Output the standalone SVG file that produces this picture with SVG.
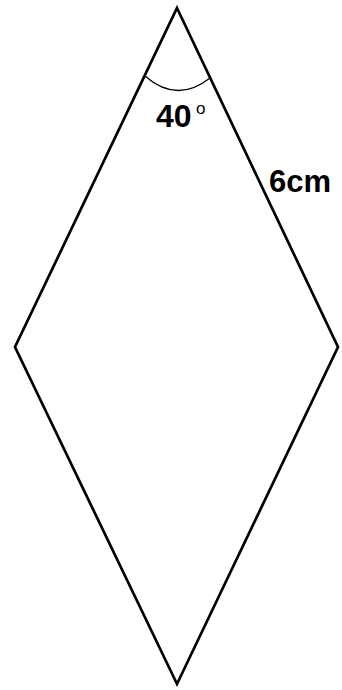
<svg xmlns="http://www.w3.org/2000/svg" width="342" height="690" viewBox="0 0 342 690">
<style>
.edge{fill:none;stroke:#000;stroke-width:2.7;stroke-linejoin:miter}
.arc{fill:none;stroke:#000;stroke-width:1.3}
.lbl{font-family:"Liberation Sans",Arial,sans-serif;font-weight:bold;fill:#000}
</style>
<rect width="342" height="690" fill="#fff"/>
<g id="connectors">
<polygon class="edge" points="177,8 338,347 177,684 15,347"/>
<path class="arc" d="M145,76 Q177,104 210,78"/>
</g>
<g id="angle-label">
<text class="lbl" x="156" y="127" font-size="32">40</text>
<text x="196" y="114" font-size="17" font-family="Liberation Sans,Arial,sans-serif" fill="#000">o</text>
</g>
<g id="side-label">
<text class="lbl" x="269" y="192" font-size="31">6cm</text>
</g>
</svg>
